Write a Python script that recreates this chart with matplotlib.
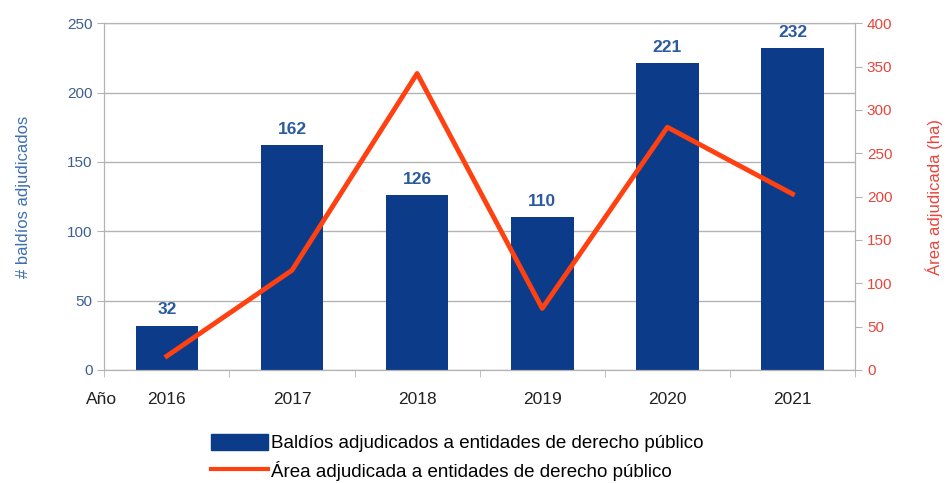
import matplotlib.pyplot as plt
from matplotlib.lines import Line2D
from matplotlib.patches import Patch

plt.rcParams['font.family'] = ['Liberation Sans', 'DejaVu Sans']

years = ["2016", "2017", "2018", "2019", "2020", "2021"]
baldios = [32, 162, 126, 110, 221, 232]
area_ha = [16, 115, 342, 71, 280, 203]

bar_color = "#0c3b8a"
line_color = "#ff4010"
label_blue = "#2b5aa0"

fig = plt.figure(figsize=(9.48, 4.83), dpi=100)
ax = fig.add_axes([0.110, 0.234, 0.792, 0.718])
x = list(range(len(years)))

ax.bar(x, baldios, width=0.5, color=bar_color, zorder=2)
for xi, v in zip(x, baldios):
    ax.text(xi, v + 6, str(v), ha="center", va="bottom", fontsize=12.5,
            fontweight="bold", color=label_blue)

ax.set_xlim(-0.5, 5.5)
ax.set_ylim(0, 250)
ax.set_yticks(range(0, 251, 50))
ax.grid(axis="y", color="#b3b3b3", linewidth=1, zorder=0)
ax.set_axisbelow(True)
ax.set_xticks(x)
ax.set_xticklabels(years, fontsize=12.5, color="#222222")
ax.set_xticks([i + 0.5 for i in range(-1, 6)], minor=True)
ax.tick_params(axis="x", which="major", length=0, pad=16)
ax.tick_params(axis="x", which="minor", length=5, color="#b3b3b3")
ax.tick_params(axis="y", length=5, color="#b3b3b3", labelsize=11, labelcolor="#3d5f8f")
for s in ax.spines.values():
    s.set_color("#b3b3b3")
ax.set_ylabel("# baldíos adjudicados", fontsize=12, color="#3d6fb0", labelpad=26)
ax.text(-0.025, -0.085, "Año", transform=ax.transAxes, ha="left", va="center",
        fontsize=12.5, color="#222222")

ax2 = ax.twinx()
ax2.plot(x, area_ha, color=line_color, linewidth=3.5, zorder=3)
ax2.set_ylim(0, 400)
ax2.set_yticks(range(0, 401, 50))
ax2.tick_params(axis="y", length=5, color="#b3b3b3", labelsize=11, labelcolor="#e8453c")
for s in ax2.spines.values():
    s.set_color("#b3b3b3")
ax2.set_ylabel("Área adjudicada (ha)", fontsize=12, color="#e8453c", labelpad=24)

handles = [Patch(color=bar_color),
           Line2D([0], [0], color=line_color, linewidth=3)]
labels = ["Baldíos adjudicados a entidades de derecho público",
          "Área adjudicada a entidades de derecho público"]
fig.legend(handles, labels, loc="upper left", bbox_to_anchor=(0.215, 0.118),
           frameon=False, fontsize=13.5, handlelength=3.0, handleheight=1.0,
           labelspacing=0.45, handletextpad=0.2, borderaxespad=0)

fig.savefig("out.png", dpi=100)
